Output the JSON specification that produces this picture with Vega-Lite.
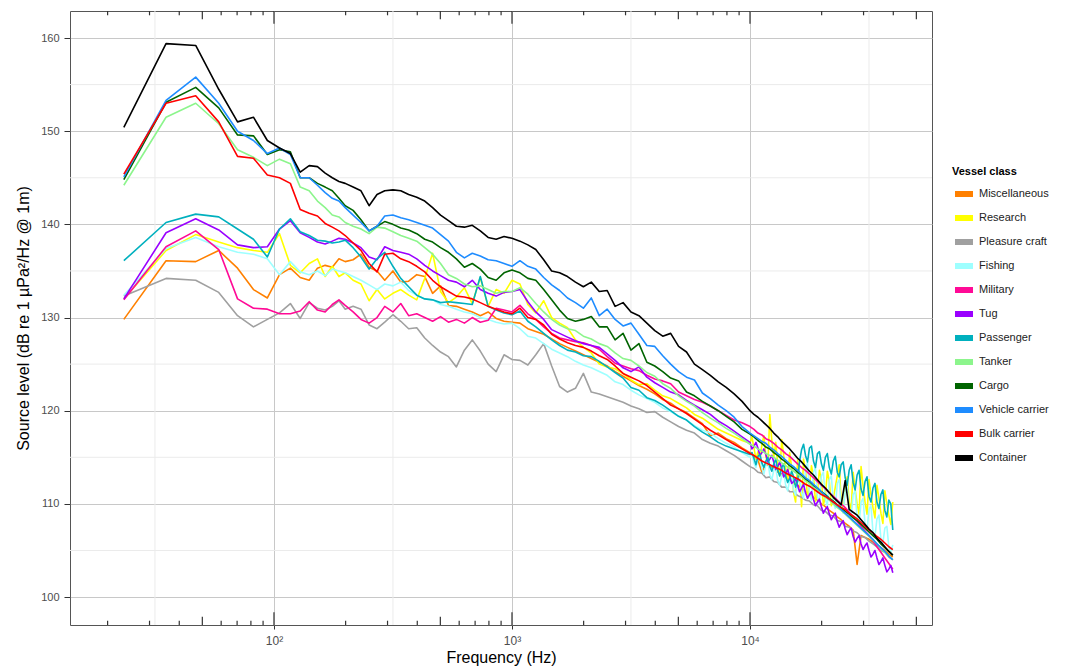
{
"$schema":"https://vega.github.io/schema/vega-lite/v6.json",
"width":862,"height":614,
"autosize":{"type":"none"},
"padding":{"left":70,"top":11,"right":137,"bottom":47},
"background":"white",
"config":{"font":"Liberation Sans","view":{"stroke":"#555","strokeWidth":1}},
"resolve":{"axis":{"x":"independent","y":"independent"}},
"datasets":{
"spec":[
{"f":23.4,"Mi":129.8,"Re":132.0,"Pl":132.3,"Fi":132.4,"Ml":131.9,"Tu":132.0,"Pa":136.1,"Ta":144.2,"Ca":144.8,"Ve":145.1,"Bu":145.4,"Co":150.4},
{"f":35.2,"Mi":136.1,"Re":137.2,"Pl":134.2,"Fi":137.4,"Ml":137.6,"Tu":139.1,"Pa":140.2,"Ta":151.5,"Ca":153.1,"Ve":153.3,"Bu":153.0,"Co":159.4},
{"f":46.9,"Mi":136.0,"Re":138.9,"Pl":134.0,"Fi":138.6,"Ml":139.3,"Tu":140.6,"Pa":141.1,"Ta":153.0,"Ca":154.7,"Ve":155.8,"Bu":153.8,"Co":159.2},
{"f":58.6,"Mi":137.2,"Re":138.1,"Pl":132.7,"Fi":137.6,"Ml":137.3,"Tu":139.4,"Pa":140.8,"Ta":150.8,"Ca":152.5,"Ve":153.0,"Bu":151.0,"Co":154.5},
{"f":70.3,"Mi":135.3,"Re":137.5,"Pl":130.2,"Fi":137.0,"Ml":132.0,"Tu":137.8,"Pa":139.5,"Ta":148.0,"Ca":149.6,"Ve":150.0,"Bu":147.3,"Co":151.0},
{"f":82.0,"Mi":133.0,"Re":137.2,"Pl":129.0,"Fi":136.8,"Ml":131.0,"Tu":137.5,"Pa":138.4,"Ta":147.2,"Ca":149.5,"Ve":149.0,"Bu":147.1,"Co":151.5},
{"f":93.8,"Mi":132.1,"Re":137.0,"Pl":129.8,"Fi":136.3,"Ml":130.9,"Tu":137.6,"Pa":136.5,"Ta":146.3,"Ca":147.5,"Ve":147.6,"Bu":145.3,"Co":149.0},
{"f":105.5,"Mi":134.6,"Re":139.0,"Pl":130.5,"Fi":134.6,"Ml":130.4,"Tu":139.5,"Pa":139.5,"Ta":147.0,"Ca":148.0,"Ve":148.2,"Bu":145.0,"Co":148.2},
{"f":117.2,"Mi":135.3,"Re":135.6,"Pl":131.5,"Fi":136.0,"Ml":130.4,"Tu":140.4,"Pa":140.6,"Ta":146.5,"Ca":147.8,"Ve":147.5,"Bu":144.4,"Co":147.6},
{"f":128.9,"Mi":134.3,"Re":134.8,"Pl":129.9,"Fi":134.9,"Ml":130.7,"Tu":139.1,"Pa":139.2,"Ta":144.0,"Ca":145.0,"Ve":145.0,"Bu":141.6,"Co":145.6},
{"f":140.6,"Mi":134.0,"Re":135.8,"Pl":131.6,"Fi":134.6,"Ml":131.7,"Tu":138.6,"Pa":138.8,"Ta":143.6,"Ca":145.0,"Ve":145.0,"Bu":141.2,"Co":146.3},
{"f":152.3,"Mi":135.3,"Re":136.3,"Pl":131.0,"Fi":135.0,"Ml":130.8,"Tu":138.1,"Pa":138.3,"Ta":142.5,"Ca":144.4,"Ve":144.2,"Bu":140.9,"Co":146.2},
{"f":164.1,"Mi":135.6,"Re":134.4,"Pl":130.8,"Fi":134.5,"Ml":130.6,"Tu":137.9,"Pa":138.2,"Ta":141.8,"Ca":144.0,"Ve":143.4,"Bu":140.1,"Co":145.5},
{"f":175.8,"Mi":135.4,"Re":135.5,"Pl":131.2,"Fi":135.2,"Ml":131.4,"Tu":138.2,"Pa":138.0,"Ta":141.0,"Ca":143.6,"Ve":142.8,"Bu":139.7,"Co":145.0},
{"f":187.5,"Mi":136.3,"Re":134.4,"Pl":131.8,"Fi":135.0,"Ml":131.9,"Tu":138.5,"Pa":138.1,"Ta":140.8,"Ca":142.8,"Ve":142.5,"Bu":139.3,"Co":144.6},
{"f":199.2,"Mi":136.0,"Re":134.8,"Pl":130.9,"Fi":134.8,"Ml":131.3,"Tu":138.4,"Pa":138.3,"Ta":140.2,"Ca":142.0,"Ve":141.8,"Bu":138.8,"Co":144.4},
{"f":215,"Mi":136.2,"Re":134.0,"Pl":131.2,"Fi":134.4,"Ml":130.6,"Tu":138.0,"Pa":137.5,"Ta":139.8,"Ca":141.5,"Ve":141.0,"Bu":138.0,"Co":144.0},
{"f":232,"Mi":136.8,"Re":133.6,"Pl":130.9,"Fi":134.0,"Ml":129.8,"Tu":137.5,"Pa":136.5,"Ta":139.5,"Ca":140.5,"Ve":140.2,"Bu":137.2,"Co":143.6},
{"f":251,"Mi":135.4,"Re":131.8,"Pl":129.2,"Fi":133.5,"Ml":129.4,"Tu":136.5,"Pa":135.2,"Ta":139.0,"Ca":139.3,"Ve":139.3,"Bu":135.8,"Co":142.0},
{"f":271,"Mi":135.0,"Re":133.0,"Pl":128.8,"Fi":133.0,"Ml":130.0,"Tu":136.2,"Pa":136.3,"Ta":139.7,"Ca":139.8,"Ve":139.8,"Bu":134.9,"Co":143.2},
{"f":292,"Mi":134.0,"Re":132.0,"Pl":129.5,"Fi":133.6,"Ml":131.2,"Tu":137.6,"Pa":137.0,"Ta":139.6,"Ca":140.3,"Ve":140.9,"Bu":136.8,"Co":143.6},
{"f":316,"Mi":135.0,"Re":132.6,"Pl":130.3,"Fi":133.4,"Ml":130.6,"Tu":137.2,"Pa":135.5,"Ta":139.2,"Ca":140.0,"Ve":141.0,"Bu":136.9,"Co":143.7},
{"f":341,"Mi":133.8,"Re":133.0,"Pl":129.6,"Fi":133.8,"Ml":131.5,"Tu":137.0,"Pa":134.2,"Ta":138.8,"Ca":139.6,"Ve":140.7,"Bu":136.3,"Co":143.6},
{"f":368,"Mi":133.9,"Re":132.4,"Pl":128.8,"Fi":132.9,"Ml":130.2,"Tu":136.8,"Pa":133.3,"Ta":138.5,"Ca":139.4,"Ve":140.5,"Bu":136.0,"Co":143.2},
{"f":398,"Mi":134.6,"Re":131.9,"Pl":128.9,"Fi":132.4,"Ml":130.4,"Tu":136.3,"Pa":132.4,"Ta":138.2,"Ca":139.0,"Ve":140.2,"Bu":135.5,"Co":142.9},
{"f":430,"Mi":134.4,"Re":134.2,"Pl":127.8,"Fi":132.0,"Ml":130.0,"Tu":135.6,"Pa":132.0,"Ta":137.5,"Ca":138.4,"Ve":139.9,"Bu":134.9,"Co":142.5},
{"f":464,"Mi":132.6,"Re":136.9,"Pl":127.0,"Fi":131.9,"Ml":129.6,"Tu":135.0,"Pa":131.9,"Ta":136.8,"Ca":138.1,"Ve":139.6,"Bu":134.0,"Co":141.8},
{"f":501,"Mi":133.4,"Re":132.8,"Pl":126.3,"Fi":131.4,"Ml":130.1,"Tu":134.5,"Pa":131.6,"Ta":135.8,"Ca":137.5,"Ve":138.9,"Bu":133.3,"Co":141.0},
{"f":541,"Mi":131.3,"Re":131.6,"Pl":125.8,"Fi":131.2,"Ml":129.5,"Tu":134.0,"Pa":131.7,"Ta":134.6,"Ca":137.0,"Ve":138.2,"Bu":132.8,"Co":140.4},
{"f":584,"Mi":131.2,"Re":132.2,"Pl":124.7,"Fi":130.9,"Ml":129.8,"Tu":133.8,"Pa":131.6,"Ta":134.2,"Ca":136.3,"Ve":137.0,"Bu":132.3,"Co":139.8},
{"f":631,"Mi":130.9,"Re":133.2,"Pl":126.5,"Fi":130.6,"Ml":129.4,"Tu":133.3,"Pa":131.5,"Ta":133.6,"Ca":135.4,"Ve":136.4,"Bu":132.2,"Co":139.7},
{"f":681,"Mi":130.6,"Re":131.5,"Pl":127.6,"Fi":130.4,"Ml":130.0,"Tu":134.0,"Pa":131.4,"Ta":133.3,"Ca":135.8,"Ve":136.9,"Bu":132.0,"Co":139.9},
{"f":736,"Mi":130.2,"Re":134.3,"Pl":126.4,"Fi":130.0,"Ml":129.5,"Tu":133.0,"Pa":134.4,"Ta":133.4,"Ca":135.2,"Ve":136.6,"Bu":131.6,"Co":139.3},
{"f":794,"Mi":130.6,"Re":131.2,"Pl":125.0,"Fi":129.8,"Ml":129.7,"Tu":132.6,"Pa":131.2,"Ta":133.0,"Ca":134.3,"Ve":136.2,"Bu":131.2,"Co":138.6},
{"f":858,"Mi":129.9,"Re":133.0,"Pl":124.2,"Fi":129.5,"Ml":131.0,"Tu":132.3,"Pa":130.8,"Ta":132.6,"Ca":134.0,"Ve":136.1,"Bu":130.9,"Co":138.4},
{"f":926,"Mi":129.6,"Re":132.6,"Pl":126.0,"Fi":129.3,"Ml":130.8,"Tu":132.7,"Pa":130.5,"Ta":132.8,"Ca":134.8,"Ve":135.8,"Bu":130.6,"Co":138.7},
{"f":1000,"Mi":129.5,"Re":134.0,"Pl":125.5,"Fi":129.4,"Ml":130.6,"Tu":132.8,"Pa":130.3,"Ta":132.8,"Ca":135.1,"Ve":135.5,"Bu":130.4,"Co":138.5},
{"f":1080,"Mi":129.4,"Re":133.6,"Pl":125.4,"Fi":128.8,"Ml":131.3,"Tu":133.0,"Pa":130.7,"Ta":133.2,"Ca":134.8,"Ve":136.1,"Bu":131.0,"Co":138.2},
{"f":1166,"Mi":128.8,"Re":131.4,"Pl":124.9,"Fi":128.0,"Ml":130.4,"Tu":131.7,"Pa":129.6,"Ta":132.5,"Ca":134.2,"Ve":135.5,"Bu":130.0,"Co":137.8},
{"f":1259,"Mi":128.5,"Re":130.5,"Pl":126.0,"Fi":127.8,"Ml":129.8,"Tu":130.6,"Pa":129.0,"Ta":131.5,"Ca":134.0,"Ve":135.2,"Bu":129.8,"Co":137.3},
{"f":1359,"Mi":128.2,"Re":131.8,"Pl":127.2,"Fi":127.2,"Ml":129.0,"Tu":129.8,"Pa":128.3,"Ta":130.6,"Ca":133.0,"Ve":134.3,"Bu":129.2,"Co":136.2},
{"f":1468,"Mi":127.7,"Re":130.0,"Pl":124.8,"Fi":126.6,"Ml":128.3,"Tu":128.7,"Pa":127.6,"Ta":129.8,"Ca":131.9,"Ve":133.5,"Bu":128.2,"Co":135.0},
{"f":1585,"Mi":127.2,"Re":129.4,"Pl":122.6,"Fi":126.2,"Ml":127.8,"Tu":128.3,"Pa":127.0,"Ta":129.2,"Ca":130.8,"Ve":132.9,"Bu":127.7,"Co":134.8},
{"f":1711,"Mi":126.8,"Re":128.9,"Pl":122.0,"Fi":125.8,"Ml":127.6,"Tu":127.9,"Pa":126.5,"Ta":128.8,"Ca":129.9,"Ve":132.1,"Bu":127.3,"Co":134.4},
{"f":1848,"Mi":126.4,"Re":127.6,"Pl":122.4,"Fi":125.3,"Ml":127.4,"Tu":127.5,"Pa":126.3,"Ta":128.6,"Ca":129.6,"Ve":131.6,"Bu":127.0,"Co":133.8},
{"f":1995,"Mi":126.0,"Re":126.8,"Pl":124.0,"Fi":124.9,"Ml":127.3,"Tu":127.2,"Pa":125.9,"Ta":128.0,"Ca":129.8,"Ve":131.0,"Bu":126.8,"Co":133.3},
{"f":2154,"Mi":125.6,"Re":126.2,"Pl":122.0,"Fi":124.6,"Ml":127.0,"Tu":127.0,"Pa":125.8,"Ta":127.7,"Ca":130.1,"Ve":132.1,"Bu":126.4,"Co":133.8},
{"f":2326,"Mi":125.2,"Re":125.0,"Pl":121.8,"Fi":124.2,"Ml":126.6,"Tu":126.8,"Pa":125.3,"Ta":127.2,"Ca":129.0,"Ve":130.2,"Bu":125.9,"Co":132.8},
{"f":2512,"Mi":124.8,"Re":124.7,"Pl":121.5,"Fi":123.8,"Ml":125.8,"Tu":126.1,"Pa":124.7,"Ta":126.9,"Ca":129.0,"Ve":130.9,"Bu":125.5,"Co":132.9},
{"f":2712,"Mi":124.2,"Re":124.5,"Pl":121.2,"Fi":123.1,"Ml":125.1,"Tu":125.4,"Pa":124.1,"Ta":126.2,"Ca":127.6,"Ve":129.8,"Bu":124.8,"Co":131.2},
{"f":2929,"Mi":123.7,"Re":124.0,"Pl":120.9,"Fi":122.8,"Ml":124.8,"Tu":124.6,"Pa":123.5,"Ta":125.6,"Ca":128.3,"Ve":129.1,"Bu":124.0,"Co":131.6},
{"f":3162,"Mi":123.2,"Re":123.3,"Pl":120.5,"Fi":122.2,"Ml":124.5,"Tu":124.2,"Pa":122.5,"Ta":125.4,"Ca":126.5,"Ve":129.4,"Bu":123.6,"Co":130.6},
{"f":3415,"Mi":122.7,"Re":122.8,"Pl":120.2,"Fi":121.7,"Ml":124.3,"Tu":124.7,"Pa":122.2,"Ta":124.8,"Ca":127.2,"Ve":128.2,"Bu":123.2,"Co":130.2},
{"f":3687,"Mi":122.3,"Re":122.9,"Pl":119.8,"Fi":121.3,"Ml":123.8,"Tu":123.6,"Pa":121.4,"Ta":124.1,"Ca":125.2,"Ve":127.0,"Bu":122.7,"Co":129.4},
{"f":3981,"Mi":121.8,"Re":122.2,"Pl":119.9,"Fi":120.9,"Ml":123.4,"Tu":123.0,"Pa":121.1,"Ta":123.7,"Ca":124.8,"Ve":126.9,"Bu":122.0,"Co":128.6},
{"f":4299,"Mi":121.2,"Re":121.6,"Pl":119.3,"Fi":120.3,"Ml":123.2,"Tu":122.5,"Pa":120.6,"Ta":122.9,"Ca":124.2,"Ve":125.9,"Bu":121.3,"Co":128.0},
{"f":4642,"Mi":120.8,"Re":121.3,"Pl":118.8,"Fi":119.9,"Ml":122.9,"Tu":122.0,"Pa":120.0,"Ta":122.4,"Ca":123.5,"Ve":125.0,"Bu":120.6,"Co":128.3},
{"f":5012,"Mi":120.2,"Re":120.8,"Pl":118.3,"Fi":119.4,"Ml":122.0,"Tu":121.7,"Pa":119.4,"Ta":121.6,"Ca":123.2,"Ve":124.2,"Bu":120.2,"Co":126.9},
{"f":5412,"Mi":119.8,"Re":120.3,"Pl":117.9,"Fi":119.0,"Ml":121.6,"Tu":121.1,"Pa":119.0,"Ta":121.0,"Ca":122.0,"Ve":123.6,"Bu":119.7,"Co":126.3},
{"f":5843,"Mi":119.2,"Re":119.6,"Pl":117.6,"Fi":118.4,"Ml":121.2,"Tu":120.6,"Pa":118.3,"Ta":120.5,"Ca":121.6,"Ve":123.3,"Bu":119.1,"Co":125.0},
{"f":6310,"Mi":118.6,"Re":119.2,"Pl":116.9,"Fi":117.9,"Ml":120.9,"Tu":120.1,"Pa":117.7,"Ta":119.8,"Ca":121.0,"Ve":121.9,"Bu":118.5,"Co":124.4},
{"f":6813,"Mi":117.3,"Re":118.6,"Pl":116.5,"Fi":117.6,"Ml":120.5,"Tu":119.6,"Pa":117.2,"Ta":119.2,"Ca":120.5,"Ve":121.3,"Bu":117.9,"Co":123.8},
{"f":7356,"Mi":117.6,"Re":118.0,"Pl":116.2,"Fi":117.0,"Ml":120.0,"Tu":118.9,"Pa":116.6,"Ta":118.7,"Ca":120.0,"Ve":120.6,"Bu":117.4,"Co":123.1},
{"f":7943,"Mi":117.0,"Re":117.6,"Pl":115.7,"Fi":116.5,"Ml":119.5,"Tu":118.4,"Pa":116.2,"Ta":118.1,"Ca":119.4,"Ve":120.0,"Bu":116.9,"Co":122.5},
{"f":8577,"Mi":116.6,"Re":117.2,"Pl":115.2,"Fi":116.1,"Ml":119.0,"Tu":117.8,"Pa":115.9,"Ta":117.6,"Ca":118.8,"Ve":119.3,"Bu":116.4,"Co":121.8},
{"f":9261,"Mi":116.0,"Re":116.8,"Pl":114.6,"Fi":115.5,"Ml":118.7,"Tu":117.2,"Pa":115.6,"Ta":117.0,"Ca":118.0,"Ve":118.3,"Bu":115.9,"Co":121.0},
{"f":10000,"Mi":115.5,"Re":116.5,"Pl":114.0,"Fi":115.0,"Ml":118.3,"Tu":116.6,"Pa":115.3,"Ta":116.4,"Ca":117.5,"Ve":117.6,"Bu":115.4,"Co":120.0},
{"f":10391,"Mi":115.1,"Re":116.0,"Pl":113.8,"Fi":114.4,"Ml":118.0,"Tu":116.2,"Pa":114.9,"Ta":116.2,"Ca":117.2,"Ve":117.3,"Bu":115.2,"Co":119.6},
{"f":10798,"Mi":114.7,"Re":115.6,"Pl":113.4,"Fi":114.9,"Ml":117.6,"Tu":116.0,"Pa":115.1,"Ta":115.9,"Ca":116.8,"Ve":117.0,"Bu":114.9,"Co":119.3},
{"f":11220,"Mi":113.4,"Re":116.4,"Pl":113.3,"Fi":113.8,"Ml":117.4,"Tu":115.5,"Pa":114.4,"Ta":115.7,"Ca":116.5,"Ve":116.7,"Bu":114.6,"Co":118.9},
{"f":11659,"Mi":114.3,"Re":115.1,"Pl":112.8,"Fi":114.2,"Ml":117.0,"Tu":115.3,"Pa":114.6,"Ta":115.4,"Ca":116.1,"Ve":116.5,"Bu":114.4,"Co":118.5},
{"f":12115,"Mi":114.0,"Re":119.6,"Pl":112.9,"Fi":113.1,"Ml":116.8,"Tu":114.8,"Pa":114.0,"Ta":115.2,"Ca":115.9,"Ve":116.1,"Bu":114.2,"Co":118.1},
{"f":12589,"Mi":113.9,"Re":115.0,"Pl":112.4,"Fi":113.6,"Ml":116.5,"Tu":114.5,"Pa":114.3,"Ta":115.0,"Ca":115.5,"Ve":115.8,"Bu":114.0,"Co":117.6},
{"f":13081,"Mi":113.4,"Re":114.2,"Pl":112.3,"Fi":112.5,"Ml":116.1,"Tu":114.0,"Pa":113.6,"Ta":114.7,"Ca":115.2,"Ve":115.4,"Bu":113.8,"Co":117.2},
{"f":13594,"Mi":113.2,"Re":116.9,"Pl":111.8,"Fi":113.0,"Ml":115.8,"Tu":113.8,"Pa":113.9,"Ta":114.4,"Ca":114.8,"Ve":115.1,"Bu":113.6,"Co":116.7},
{"f":14125,"Mi":112.8,"Re":113.8,"Pl":111.8,"Fi":112.0,"Ml":115.4,"Tu":113.2,"Pa":113.0,"Ta":114.1,"Ca":114.5,"Ve":114.7,"Bu":113.3,"Co":116.3},
{"f":14678,"Mi":112.6,"Re":115.5,"Pl":111.3,"Fi":112.6,"Ml":115.1,"Tu":113.0,"Pa":112.7,"Ta":113.8,"Ca":114.1,"Ve":114.3,"Bu":113.1,"Co":115.9},
{"f":15252,"Mi":112.2,"Re":111.2,"Pl":111.3,"Fi":111.5,"Ml":114.7,"Tu":112.4,"Pa":112.9,"Ta":113.5,"Ca":113.8,"Ve":114.0,"Bu":112.9,"Co":115.4},
{"f":15849,"Mi":112.0,"Re":114.7,"Pl":110.9,"Fi":112.3,"Ml":114.3,"Tu":112.0,"Pa":112.4,"Ta":113.2,"Ca":113.4,"Ve":113.6,"Bu":112.7,"Co":114.9},
{"f":16469,"Mi":111.7,"Re":109.7,"Pl":110.7,"Fi":111.2,"Ml":113.9,"Tu":111.7,"Pa":115.8,"Ta":112.9,"Ca":113.1,"Ve":113.2,"Bu":112.4,"Co":114.5},
{"f":17113,"Mi":111.3,"Re":113.6,"Pl":110.4,"Fi":113.8,"Ml":113.6,"Tu":111.2,"Pa":115.2,"Ta":112.5,"Ca":112.7,"Ve":112.8,"Bu":112.1,"Co":114.0},
{"f":17783,"Mi":111.1,"Re":111.8,"Pl":110.3,"Fi":111.0,"Ml":113.2,"Tu":111.0,"Pa":116.0,"Ta":112.2,"Ca":112.4,"Ve":112.5,"Bu":111.9,"Co":113.5},
{"f":18478,"Mi":110.7,"Re":113.0,"Pl":109.9,"Fi":113.4,"Ml":112.8,"Tu":110.5,"Pa":114.6,"Ta":111.8,"Ca":112.0,"Ve":112.1,"Bu":111.6,"Co":113.1},
{"f":19201,"Mi":110.4,"Re":111.2,"Pl":109.8,"Fi":110.8,"Ml":112.4,"Tu":110.2,"Pa":115.4,"Ta":111.5,"Ca":111.7,"Ve":111.7,"Bu":111.3,"Co":112.6},
{"f":19953,"Mi":110.0,"Re":112.6,"Pl":109.3,"Fi":113.0,"Ml":112.0,"Tu":109.7,"Pa":114.3,"Ta":111.1,"Ca":111.3,"Ve":111.3,"Bu":111.0,"Co":112.1},
{"f":20733,"Mi":109.7,"Re":110.8,"Pl":109.2,"Fi":110.5,"Ml":111.6,"Tu":109.4,"Pa":115.0,"Ta":110.7,"Ca":111.0,"Ve":110.9,"Bu":110.8,"Co":111.7},
{"f":21544,"Mi":109.3,"Re":112.4,"Pl":108.8,"Fi":112.6,"Ml":111.2,"Tu":108.9,"Pa":113.9,"Ta":110.4,"Ca":110.6,"Ve":110.5,"Bu":110.5,"Co":111.2},
{"f":22387,"Mi":109.0,"Re":110.6,"Pl":108.7,"Fi":110.2,"Ml":110.8,"Tu":108.7,"Pa":114.6,"Ta":110.0,"Ca":110.3,"Ve":110.2,"Bu":110.2,"Co":110.7},
{"f":23263,"Mi":108.6,"Re":113.0,"Pl":108.2,"Fi":112.2,"Ml":110.4,"Tu":108.1,"Pa":113.4,"Ta":109.6,"Ca":109.9,"Ve":109.8,"Bu":109.9,"Co":110.3},
{"f":24155,"Mi":108.3,"Re":110.4,"Pl":108.1,"Fi":109.6,"Ml":110.0,"Tu":107.9,"Pa":114.2,"Ta":109.3,"Ca":109.6,"Ve":109.4,"Bu":109.6,"Co":109.9},
{"f":25119,"Mi":107.9,"Re":111.8,"Pl":107.6,"Fi":111.5,"Ml":109.6,"Tu":107.3,"Pa":112.8,"Ta":108.9,"Ca":109.2,"Ve":109.0,"Bu":109.4,"Co":112.5},
{"f":26102,"Mi":107.6,"Re":110.2,"Pl":107.5,"Fi":109.2,"Ml":109.1,"Tu":107.1,"Pa":113.6,"Ta":108.5,"Ca":108.9,"Ve":108.6,"Bu":109.0,"Co":109.4},
{"f":27123,"Mi":107.2,"Re":113.4,"Pl":107.1,"Fi":111.0,"Ml":108.6,"Tu":106.5,"Pa":112.3,"Ta":108.1,"Ca":108.5,"Ve":108.2,"Bu":108.7,"Co":109.1},
{"f":28184,"Mi":103.5,"Re":110.0,"Pl":106.9,"Fi":108.5,"Ml":108.1,"Tu":106.3,"Pa":113.1,"Ta":107.7,"Ca":108.2,"Ve":107.8,"Bu":108.4,"Co":108.8},
{"f":29286,"Mi":106.6,"Re":114.0,"Pl":106.5,"Fi":110.2,"Ml":107.6,"Tu":105.7,"Pa":111.6,"Ta":107.3,"Ca":107.8,"Ve":107.4,"Bu":108.0,"Co":108.3},
{"f":30432,"Mi":106.4,"Re":110.2,"Pl":106.4,"Fi":107.8,"Ml":107.1,"Tu":105.5,"Pa":112.4,"Ta":106.9,"Ca":107.4,"Ve":107.0,"Bu":107.6,"Co":107.8},
{"f":31623,"Mi":106.2,"Re":112.6,"Pl":106.0,"Fi":109.4,"Ml":106.6,"Tu":105.0,"Pa":110.8,"Ta":106.5,"Ca":107.0,"Ve":106.6,"Bu":107.2,"Co":107.3},
{"f":32860,"Mi":105.9,"Re":109.6,"Pl":105.7,"Fi":107.0,"Ml":106.0,"Tu":104.6,"Pa":111.7,"Ta":106.1,"Ca":106.6,"Ve":106.2,"Bu":106.9,"Co":106.9},
{"f":34146,"Mi":105.6,"Re":112.0,"Pl":105.4,"Fi":108.4,"Ml":105.4,"Tu":104.2,"Pa":110.2,"Ta":105.7,"Ca":106.2,"Ve":105.7,"Bu":106.5,"Co":106.3},
{"f":35481,"Mi":105.3,"Re":109.0,"Pl":105.0,"Fi":106.2,"Ml":104.8,"Tu":103.8,"Pa":111.0,"Ta":105.2,"Ca":105.7,"Ve":105.3,"Bu":106.2,"Co":105.9},
{"f":36869,"Mi":105.0,"Re":111.4,"Pl":104.8,"Fi":107.4,"Ml":104.2,"Tu":103.4,"Pa":109.3,"Ta":104.8,"Ca":105.3,"Ve":104.9,"Bu":105.8,"Co":105.4},
{"f":38312,"Mi":104.6,"Re":108.8,"Pl":104.3,"Fi":105.4,"Ml":103.6,"Tu":103.0,"Pa":110.4,"Ta":104.4,"Ca":104.9,"Ve":104.4,"Bu":105.4,"Co":104.9},
{"f":39811,"Mi":104.3,"Re":110.2,"Pl":104.0,"Fi":105.6,"Ml":103.0,"Tu":102.6,"Pa":107.2,"Ta":104.0,"Ca":104.5,"Ve":104.0,"Bu":105.1,"Co":104.5},
{"f":10194,"Re":117.2,"Pa":115.5,"Fi":115.5,"Tu":115.9},
{"f":10593,"Re":114.8,"Pa":114.2,"Fi":113.9,"Tu":116.6},
{"f":11007,"Re":114.6,"Pa":115.3,"Fi":115.2,"Tu":115.2},
{"f":11437,"Re":117.3,"Pa":113.9,"Fi":113.2,"Tu":115.9},
{"f":11885,"Re":114.2,"Pa":115.0,"Fi":114.6,"Tu":114.5},
{"f":12350,"Re":116.8,"Pa":113.5,"Fi":112.6,"Tu":115.2},
{"f":12832,"Re":116.6,"Pa":114.8,"Fi":113.9,"Tu":113.7},
{"f":13335,"Re":113.0,"Pa":113.0,"Fi":112.0,"Tu":114.5},
{"f":13856,"Re":115.2,"Pa":114.3,"Fi":113.5,"Tu":112.9},
{"f":14399,"Re":112.4,"Pa":112.3,"Fi":111.4,"Tu":113.7},
{"f":14962,"Re":113.9,"Pa":113.5,"Fi":113.0,"Tu":112.2},
{"f":15548,"Re":110.2,"Pa":111.8,"Fi":110.9,"Tu":112.7},
{"f":16156,"Re":112.9,"Pa":114.6,"Fi":112.8,"Tu":111.3},
{"f":16788,"Re":114.8,"Pa":116.4,"Fi":110.6,"Tu":112.1},
{"f":17445,"Re":110.6,"Pa":114.5,"Fi":114.4,"Tu":110.6},
{"f":18127,"Re":114.1,"Pa":116.2,"Fi":110.4,"Tu":111.3},
{"f":18836,"Re":110.3,"Pa":113.9,"Fi":113.9,"Tu":109.8},
{"f":19573,"Re":113.6,"Pa":115.6,"Fi":110.1,"Tu":110.5},
{"f":20339,"Re":109.9,"Pa":113.6,"Fi":113.4,"Tu":109.0},
{"f":21135,"Re":113.5,"Pa":115.4,"Fi":109.8,"Tu":109.7},
{"f":21962,"Re":109.8,"Pa":113.2,"Fi":113.0,"Tu":108.3},
{"f":22821,"Re":111.8,"Pa":115.1,"Fi":109.5,"Tu":109.0},
{"f":23711,"Re":114.2,"Pa":112.9,"Fi":112.6,"Tu":107.5},
{"f":24633,"Re":109.3,"Pa":114.5,"Fi":109.0,"Tu":108.2},
{"f":25607,"Re":112.9,"Pa":112.0,"Fi":112.0,"Tu":106.7},
{"f":26609,"Re":109.4,"Pa":114.2,"Fi":108.6,"Tu":107.4},
{"f":27649,"Re":111.6,"Pa":111.5,"Fi":111.4,"Tu":105.9},
{"f":28730,"Re":108.9,"Pa":113.6,"Fi":107.9,"Tu":106.6},
{"f":29854,"Re":111.9,"Pa":110.9,"Fi":110.6,"Tu":105.1},
{"f":31022,"Re":108.9,"Pa":112.9,"Fi":107.2,"Tu":105.8},
{"f":32236,"Re":111.0,"Pa":110.2,"Fi":109.8,"Tu":104.3},
{"f":33497,"Re":108.5,"Pa":112.2,"Fi":106.5,"Tu":105.0},
{"f":34807,"Re":110.6,"Pa":109.5,"Fi":108.8,"Tu":103.5},
{"f":36170,"Re":107.9,"Pa":111.5,"Fi":105.8,"Tu":104.2},
{"f":37584,"Re":110.0,"Pa":108.6,"Fi":107.6,"Tu":102.7},
{"f":39054,"Re":107.8,"Pa":110.0,"Fi":104.8,"Tu":103.4}
],
"names":[
{"cls":"Mi","name":"Miscellaneous"},{"cls":"Re","name":"Research"},{"cls":"Pl","name":"Pleasure craft"},{"cls":"Fi","name":"Fishing"},
{"cls":"Ml","name":"Military"},{"cls":"Tu","name":"Tug"},{"cls":"Pa","name":"Passenger"},{"cls":"Ta","name":"Tanker"},
{"cls":"Ca","name":"Cargo"},{"cls":"Ve","name":"Vehicle carrier"},{"cls":"Bu","name":"Bulk carrier"},{"cls":"Co","name":"Container"}
],
"logticks":[
{"f":20,"k":"s"},{"f":30,"k":"s"},{"f":40,"k":"s"},{"f":50,"k":"m"},{"f":60,"k":"s"},{"f":70,"k":"s"},{"f":80,"k":"s"},{"f":90,"k":"s"},
{"f":100,"k":"l"},{"f":200,"k":"s"},{"f":300,"k":"s"},{"f":400,"k":"s"},{"f":500,"k":"m"},{"f":600,"k":"s"},{"f":700,"k":"s"},{"f":800,"k":"s"},{"f":900,"k":"s"},
{"f":1000,"k":"l"},{"f":2000,"k":"s"},{"f":3000,"k":"s"},{"f":4000,"k":"s"},{"f":5000,"k":"m"},{"f":6000,"k":"s"},{"f":7000,"k":"s"},{"f":8000,"k":"s"},{"f":9000,"k":"s"},
{"f":10000,"k":"l"},{"f":20000,"k":"s"},{"f":30000,"k":"s"},{"f":40000,"k":"s"},{"f":50000,"k":"m"}
],
"hgrid":[{"v":105},{"v":115},{"v":125},{"v":135},{"v":145},{"v":155}],
"vgrid":[{"v":31.62},{"v":316.2},{"v":3162},{"v":31623}]
},
"layer":[
{"data":{"name":"hgrid"},"mark":{"type":"rule","color":"#ebebeb","strokeWidth":1},
 "encoding":{"y":{"field":"v","type":"quantitative","scale":{"domain":[97,162.9],"nice":false,"zero":false},"axis":null}}},
{"data":{"name":"vgrid"},"mark":{"type":"rule","color":"#ebebeb","strokeWidth":1},
 "encoding":{"x":{"field":"v","type":"quantitative","scale":{"type":"log","domain":[13.9,58170],"nice":false},"axis":null}}},
{"data":{"name":"logticks"},"transform":[{"filter":{"field":"k","equal":"s"}}],"mark":{"type":"rule","color":"#333","strokeWidth":1.2},
 "encoding":{"x":{"field":"f","type":"quantitative","axis":null},"y":{"datum":97,"type":"quantitative","axis":null},"y2":{"datum":97.46}}},
{"data":{"name":"logticks"},"transform":[{"filter":{"field":"k","equal":"m"}}],"mark":{"type":"rule","color":"#333","strokeWidth":1.2},
 "encoding":{"x":{"field":"f","type":"quantitative","axis":null},"y":{"datum":97,"type":"quantitative","axis":null},"y2":{"datum":97.89}}},
{"data":{"name":"logticks"},"transform":[{"filter":{"field":"k","equal":"l"}}],"mark":{"type":"rule","color":"#333","strokeWidth":1.2},
 "encoding":{"x":{"field":"f","type":"quantitative","axis":null},"y":{"datum":97,"type":"quantitative","axis":null},"y2":{"datum":98.36}}},
{"data":{"name":"logticks"},"transform":[{"filter":{"field":"k","equal":"s"}}],"mark":{"type":"rule","color":"#333","strokeWidth":1.2},
 "encoding":{"x":{"field":"f","type":"quantitative","axis":null},"y":{"datum":162.9,"type":"quantitative","axis":null},"y2":{"datum":162.44}}},
{"data":{"name":"logticks"},"transform":[{"filter":{"field":"k","equal":"m"}}],"mark":{"type":"rule","color":"#333","strokeWidth":1.2},
 "encoding":{"x":{"field":"f","type":"quantitative","axis":null},"y":{"datum":162.9,"type":"quantitative","axis":null},"y2":{"datum":162.01}}},
{"data":{"name":"logticks"},"transform":[{"filter":{"field":"k","equal":"l"}}],"mark":{"type":"rule","color":"#333","strokeWidth":1.2},
 "encoding":{"x":{"field":"f","type":"quantitative","axis":null},"y":{"datum":162.9,"type":"quantitative","axis":null},"y2":{"datum":161.54}}},
{"data":{"name":"spec"},
 "transform":[
   {"fold":["Mi","Re","Pl","Fi","Ml","Tu","Pa","Ta","Ca","Ve","Bu","Co"],"as":["cls","db"]},
   {"filter":{"field":"db","valid":true}},
   {"lookup":"cls","from":{"data":{"name":"names"},"key":"cls","fields":["name"]}}
 ],
 "mark":{"type":"line","strokeWidth":1.6,"strokeJoin":"round"},
 "encoding":{
   "x":{"field":"f","type":"quantitative","scale":{"type":"log","domain":[13.9,58170],"nice":false},
        "axis":{"orient":"bottom","values":[100,1000,10000],"labelExpr":"datum.value == 100 ? '10²' : datum.value == 1000 ? '10³' : '10⁴'",
                "title":"Frequency (Hz)","grid":true,"gridColor":"#c8c8c8","domain":false,"tickSize":4,"tickColor":"#333",
                "labelFontSize":12,"labelColor":"#4d4d4d","labelPadding":6,"titleFontSize":16,"titleFontWeight":"normal","titleColor":"#000","titlePadding":3}},
   "y":{"field":"db","type":"quantitative","scale":{"domain":[97,162.9],"nice":false,"zero":false},
        "axis":{"orient":"left","values":[100,110,120,130,140,150,160],"title":"Source level (dB re 1 µPa²/Hz @ 1m)","grid":true,"gridColor":"#c8c8c8",
                "domain":false,"tickSize":6,"tickColor":"#333","labelFontSize":11,"labelColor":"#4d4d4d","labelPadding":5,
                "titleFontSize":16,"titleFontWeight":"normal","titleColor":"#000","titlePadding":9}},
   "color":{"field":"name","type":"nominal",
     "scale":{"domain":["Miscellaneous","Research","Pleasure craft","Fishing","Military","Tug","Passenger","Tanker","Cargo","Vehicle carrier","Bulk carrier","Container"],
              "range":["#ff8000","#ffff00","#a0a0a0","#9effff","#ff0a96","#9a00ff","#00b0be","#8cf58c","#006400","#1e8cff","#ff0000","#000000"]},
     "legend":{"orient":"none","legendX":882,"legendY":155,"title":"Vessel class","titleFontSize":11,"titleFontWeight":"bold","titleColor":"#000",
               "labelFontSize":11,"labelColor":"#222","symbolType":"stroke","symbolStrokeWidth":6,"symbolSize":324,"rowPadding":0,
               "titlePadding":5,"labelOffset":3,"padding":0}}
 }}
]
}
